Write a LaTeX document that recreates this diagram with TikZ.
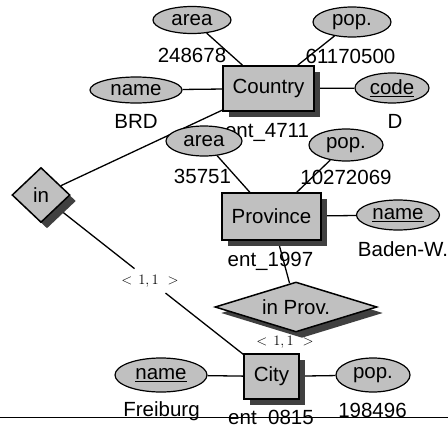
\documentclass[tikz,border=0pt]{standalone}
\usepackage{fontspec}
\setmainfont{Liberation Sans}
\usetikzlibrary{shapes.geometric,shadows,calc}
\pgfdeclarelayer{labels}
\pgfdeclarelayer{edges}
\pgfsetlayers{labels,edges,main}
\definecolor{boxfill}{RGB}{192,192,192}
\definecolor{shadowfill}{RGB}{64,64,64}
\tikzset{
  dropsh/.style={drop shadow={shadow xshift=6pt,shadow yshift=-6pt,fill=shadowfill,opacity=1}},
  entity/.style={draw,fill=boxfill,rectangle,inner sep=0pt,line width=1.5pt,dropsh},
  attr/.style={draw,fill=boxfill,ellipse,inner sep=0pt,line width=1.2pt},
  rel/.style={draw,fill=boxfill,diamond,inner sep=0pt,line width=1.5pt,dropsh},
  val/.style={anchor=base,inner sep=0pt},
  card/.style={font=\fontsize{14}{16}\selectfont,inner sep=0pt},
  link/.style={line width=1.3pt},
}
\newcommand{\cardtext}{$<\hspace{2pt}1,1\hspace{5pt}>$}
\begin{document}
\begin{tikzpicture}[x=1pt,y=-1pt,font=\fontsize{20.5}{24}\selectfont]
\useasboundingbox (0,0) rectangle (448,426);

% entities
\node[entity,minimum width=91pt,minimum height=45pt] (country) at (268.5,88.5) {Country};
\node[entity,minimum width=99pt,minimum height=47pt] (province) at (271.5,216.5) {Province};
\node[entity,minimum width=55pt,minimum height=45pt] (city) at (271.5,376.5) {City};

% relationships
\node[rel,minimum width=58pt,minimum height=55pt] (in) at (41,195) {in};
\node[rel,shape aspect=3.3,minimum width=162pt,minimum height=50pt] (inprov) at (296,307) {in Prov.};

% attributes
\node[attr,minimum width=78pt,minimum height=27pt] (carea) at (192,20) {area};
\node[attr,minimum width=78pt,minimum height=30pt] (cpop) at (352,22) {pop.};
\node[attr,minimum width=92pt,minimum height=26pt] (cname) at (136,90) {name};
\node[attr,minimum width=74pt,minimum height=30pt] (ccode) at (392,88) {\underline{code}};
\node[attr,minimum width=76pt,minimum height=30pt] (parea) at (204,141) {area};
\node[attr,minimum width=74pt,minimum height=32pt] (ppop) at (346,145) {pop.};
\node[attr,minimum width=83pt,minimum height=30pt] (pname) at (398,215) {\underline{name}};
\node[attr,minimum width=92pt,minimum height=34pt] (tname) at (161,375) {\underline{name}};
\node[attr,minimum width=74pt,minimum height=34pt] (tpop) at (373,375) {pop.};

% values and cardinalities
\begin{pgfonlayer}{labels}
\node[val] (v1) at (192,62) {248678};
\node[val] (v2) at (350.5,63) {61170500};
\node[val] (v3) at (136,128) {BRD};
\node[val] (v4) at (395,128) {D};
\node[val] (v5) at (267,137) {ent\_4711};
\node[val] (v6) at (202.5,183) {35751};
\node[val] (v7) at (346,184) {10272069};
\node[val] (v8) at (403,256) {Baden-W.};
\node[val] (v9) at (270.5,266) {ent\_1997};
\node[val] (v10) at (161.5,416) {Freiburg};
\node[val] (v11) at (372.5,417) {198496};
\node[val] (v12) at (271,424) {ent\_0815};
\node[card,minimum width=64pt,minimum height=24pt] (c1) at ($(in)!0.473!(city)$) {\cardtext};
\node[card] (c2) at (285,342) {\cardtext};
\end{pgfonlayer}

% connectors
\begin{pgfonlayer}{edges}
\draw[link] (carea) -- (country);
\draw[link] (cpop) -- (country);
\draw[link] (cname) -- (country);
\draw[link] (ccode) -- (country);
\draw[link] (in) -- (country);
\draw[link] (parea) -- (province);
\draw[link] (ppop) -- (province);
\draw[link] (pname) -- (province);
\draw[link] (province) -- (inprov);
\draw[link] (in) -- (c1);
\draw[link] (c1) -- (city);
\draw[link] (tname) -- (city);
\draw[link] (tpop) -- (city);
\coordinate (baseL) at (0,417);
\coordinate (baseR) at (448,417);
\draw[line width=1pt] (baseL) -- (baseR);
\end{pgfonlayer}
\end{tikzpicture}
\end{document}
